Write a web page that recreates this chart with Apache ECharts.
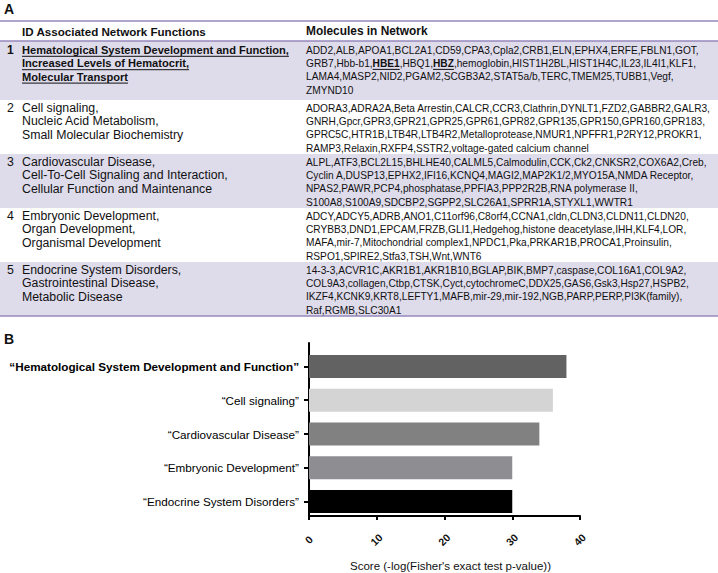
<!DOCTYPE html>
<html>
<head>
<meta charset="utf-8">
<script src="https://cdn.jsdelivr.net/npm/echarts@6/dist/echarts.min.js"></script>
<style>
  html, body { margin: 0; padding: 0; background: #fff; }
  #main { width: 718px; height: 573px; }
</style>
</head>
<body>
<div id="main"></div>
<script>
// ---- panel A data ----
const rowIds = ['1', '2', '3', '4', '5'];
const networkFunctions = [
  ['Hematological System Development and Function,', 'Increased Levels of Hematocrit,', 'Molecular Transport'],
  ['Cell signaling,', 'Nucleic Acid Metabolism,', 'Small Molecular Biochemistry'],
  ['Cardiovascular Disease,', 'Cell-To-Cell Signaling and Interaction,', 'Cellular Function and Maintenance'],
  ['Embryonic Development,', 'Organ Development,', 'Organismal Development'],
  ['Endocrine System Disorders,', 'Gastrointestinal Disease,', 'Metabolic Disease']
];
const networkMolecules = [
  ['ADD2,ALB,APOA1,BCL2A1,CD59,CPA3,Cpla2,CRB1,ELN,EPHX4,ERFE,FBLN1,GOT,',
   'GRB7,Hbb-b1,HBE1,HBQ1,HBZ,hemoglobin,HIST1H2BL,HIST1H4C,IL23,IL4I1,KLF1,',
   'LAMA4,MASP2,NID2,PGAM2,SCGB3A2,STAT5a/b,TERC,TMEM25,TUBB1,Vegf,',
   'ZMYND10'],
  ['ADORA3,ADRA2A,Beta Arrestin,CALCR,CCR3,Clathrin,DYNLT1,FZD2,GABBR2,GALR3,',
   'GNRH,Gpcr,GPR3,GPR21,GPR25,GPR61,GPR82,GPR135,GPR150,GPR160,GPR183,',
   'GPRC5C,HTR1B,LTB4R,LTB4R2,Metalloprotease,NMUR1,NPFFR1,P2RY12,PROKR1,',
   'RAMP3,Relaxin,RXFP4,SSTR2,voltage-gated calcium channel'],
  ['ALPL,ATF3,BCL2L15,BHLHE40,CALML5,Calmodulin,CCK,Ck2,CNKSR2,COX6A2,Creb,',
   'Cyclin A,DUSP13,EPHX2,IFI16,KCNQ4,MAGI2,MAP2K1/2,MYO15A,NMDA Receptor,',
   'NPAS2,PAWR,PCP4,phosphatase,PPFIA3,PPP2R2B,RNA polymerase II,',
   'S100A8,S100A9,SDCBP2,SGPP2,SLC26A1,SPRR1A,STYXL1,WWTR1'],
  ['ADCY,ADCY5,ADRB,ANO1,C11orf96,C8orf4,CCNA1,cldn,CLDN3,CLDN11,CLDN20,',
   'CRYBB3,DND1,EPCAM,FRZB,GLI1,Hedgehog,histone deacetylase,IHH,KLF4,LOR,',
   'MAFA,mir-7,Mitochondrial complex1,NPDC1,Pka,PRKAR1B,PROCA1,Proinsulin,',
   'RSPO1,SPIRE2,Stfa3,TSH,Wnt,WNT6'],
  ['14-3-3,ACVR1C,AKR1B1,AKR1B10,BGLAP,BIK,BMP7,caspase,COL16A1,COL9A2,',
   'COL9A3,collagen,Ctbp,CTSK,Cyct,cytochromeC,DDX25,GAS6,Gsk3,Hsp27,HSPB2,',
   'IKZF4,KCNK9,KRT8,LEFTY1,MAFB,mir-29,mir-192,NGB,PARP,PERP,PI3K(family),',
   'Raf,RGMB,SLC30A1']
];
const highlightedGenes = ['HBE1', 'HBZ'];

// ---- panel B data ----
const categories = [
  '“Hematological System Development and Function”',
  '“Cell signaling”',
  '“Cardiovascular Disease”',
  '“Embryonic Development”',
  '“Endocrine System Disorders”'
];
const scores = [38, 36, 34, 30, 30];
const barColors = ['#626262', '#d4d4d4', '#818181', '#8e8e92', '#000000'];

// ---- table layout ----
const FONT = '"Liberation Sans", Arial, Helvetica, sans-serif';
const FS_FUNC = 12.3;
const FS_LEAD = 11.1;
const LINE_H = 13.4;
const MOL_X = 306;
const MOL_MAX_W = 405;
const rowTops = [41, 100, 154, 208, 262];
const tableBottom = 316;
const rowFill = '#dedbeb';
const ruleColor = '#9689bd';
const ink = '#111111';

const ctx = document.createElement('canvas').getContext('2d');
function textWidth(s, bold, size) {
  ctx.font = (bold ? 'bold ' : '') + size + 'px ' + FONT;
  return ctx.measureText(s).width;
}
// molecule font: widest line fills the column
let widest = 0;
networkMolecules.forEach(function (rows) {
  rows.forEach(function (l) { widest = Math.max(widest, textWidth(l, false, 10)); });
});
const FS_MOL = Math.min(11, 10 * MOL_MAX_W / widest);

function txt(s, x, y, bold, size) {
  return {
    type: 'text', z: 3, silent: true,
    style: {
      text: s, x: x, y: y, fill: ink,
      font: (bold ? 'bold ' : '') + size + 'px ' + FONT,
      align: 'left', verticalAlign: 'middle',
      textAlign: 'left', textVerticalAlign: 'middle'
    }
  };
}
function hline(x1, x2, y, color, w) {
  return {
    type: 'line', z: 2, silent: true,
    shape: { x1: x1, y1: y, x2: x2, y2: y },
    style: { stroke: color, lineWidth: w }
  };
}

const graphics = [];
graphics.push(txt('A', 4, 9, true, 14));
graphics.push(txt('B', 4, 339, true, 14));
graphics.push(hline(0, 718, 21, ruleColor, 1.5));
graphics.push(txt('ID Associated Network Functions', 22, 31, true, 11.6));
graphics.push(txt('Molecules in Network', MOL_X, 31, true, 11.9));

rowIds.forEach(function (id, i) {
  const top = rowTops[i];
  const bottom = i < rowIds.length - 1 ? rowTops[i + 1] : tableBottom;
  const lead = i === 0;
  const fs = lead ? FS_LEAD : FS_FUNC;
  if (i % 2 === 0) {
    graphics.push({
      type: 'rect', z: 1, silent: true,
      shape: { x: 0, y: top, width: 718, height: bottom - top },
      style: { fill: rowFill }
    });
  }
  const y0 = top + (lead ? 9 : 8);
  graphics.push(txt(id, 7, y0, lead, lead ? 12 : FS_FUNC));
  networkFunctions[i].forEach(function (line, j) {
    const y = y0 + j * LINE_H;
    graphics.push(txt(line, 22, y, lead, fs));
    if (lead) {
      graphics.push(hline(22, 22 + textWidth(line, true, fs), y + 6.3, ink, 1));
    }
  });
  networkMolecules[i].forEach(function (line, j) {
    const y = y0 + j * LINE_H;
    const re = new RegExp('(' + highlightedGenes.join('|') + ')(?=,|$)', 'g');
    let x = MOL_X;
    line.split(re).forEach(function (p) {
      if (!p) return;
      const bold = highlightedGenes.indexOf(p) >= 0;
      graphics.push(txt(p, x, y, bold, FS_MOL));
      const w = textWidth(p, bold, FS_MOL);
      if (bold) graphics.push(hline(x, x + w, y + 6, ink, 1));
      x += w;
    });
  });
});
graphics.push(hline(0, 718, 41, ruleColor, 1.5));
graphics.push(hline(0, 718, tableBottom, ruleColor, 1.5));

const chart = echarts.init(document.getElementById('main'), null, { renderer: 'svg' });

chart.setOption({
  animation: false,
  backgroundColor: '#ffffff',
  textStyle: { fontFamily: FONT },
  graphic: graphics,
  grid: [
    { left: 309, top: 349.5, width: 271, height: 169 },
    { left: 309, top: 343, width: 271, height: 180 }
  ],
  xAxis: [
    { gridIndex: 0, type: 'value', min: 0, max: 40, show: false },
    {
      gridIndex: 1, type: 'value', min: 0, max: 40, interval: 10,
      name: "Score (-log(Fisher's exact test p-value))",
      nameLocation: 'middle', nameGap: 44,
      nameTextStyle: { fontSize: 11.5, color: ink, padding: [0, 0, 0, 12] },
      axisLine: { show: true, lineStyle: { color: '#000', width: 2 } },
      axisTick: { show: true, length: 4, lineStyle: { color: '#000', width: 2 } },
      axisLabel: {
        rotate: 45, margin: 24, align: 'center', verticalAlign: 'middle',
        fontSize: 10.5, fontWeight: 'bold', color: ink
      },
      splitLine: { show: false }
    }
  ],
  yAxis: [
    {
      gridIndex: 0, type: 'category', inverse: true,
      data: categories.map(function (c, i) {
        return i === 0 ? { value: c, textStyle: { fontWeight: 'bold' } } : c;
      }),
      axisLine: { show: false },
      axisTick: { show: true, alignWithLabel: true, length: 5, lineStyle: { color: '#000', width: 2 } },
      axisLabel: { fontSize: 11.7, color: '#000', margin: 10 }
    },
    {
      gridIndex: 1, type: 'value', min: 0, max: 1,
      axisLine: { show: true, lineStyle: { color: '#000', width: 2 } },
      axisTick: { show: false }, axisLabel: { show: false }, splitLine: { show: false }
    }
  ],
  series: [{
    type: 'bar',
    xAxisIndex: 0, yAxisIndex: 0,
    barWidth: 23,
    data: scores.map(function (v, i) {
      return { value: v, itemStyle: { color: barColors[i] } };
    })
  }]
});
</script>
</body>
</html>
